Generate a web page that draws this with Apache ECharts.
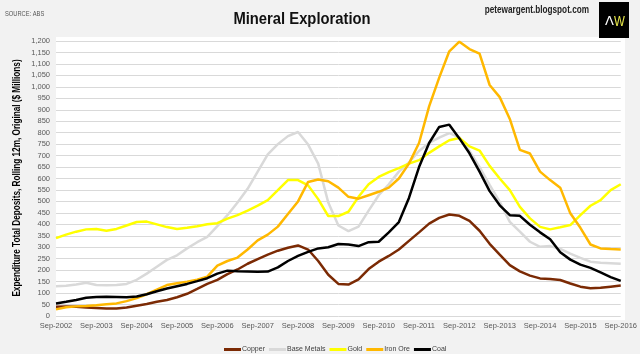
<!DOCTYPE html>
<html>
<head>
<meta charset="utf-8">
<script src="https://cdn.jsdelivr.net/npm/echarts/dist/echarts.min.js"></script>
<style>
html,body{margin:0;padding:0;background:#f2f2f2;}
#chart{width:640px;height:354px;}
</style>
</head>
<body>
<div id="chart"></div>
<script>
var categories = [
 'Sep-2002','Dec-2002','Mar-2003','Jun-2003','Sep-2003','Dec-2003','Mar-2004','Jun-2004',
 'Sep-2004','Dec-2004','Mar-2005','Jun-2005','Sep-2005','Dec-2005','Mar-2006','Jun-2006',
 'Sep-2006','Dec-2006','Mar-2007','Jun-2007','Sep-2007','Dec-2007','Mar-2008','Jun-2008',
 'Sep-2008','Dec-2008','Mar-2009','Jun-2009','Sep-2009','Dec-2009','Mar-2010','Jun-2010',
 'Sep-2010','Dec-2010','Mar-2011','Jun-2011','Sep-2011','Dec-2011','Mar-2012','Jun-2012',
 'Sep-2012','Dec-2012','Mar-2013','Jun-2013','Sep-2013','Dec-2013','Mar-2014','Jun-2014',
 'Sep-2014','Dec-2014','Mar-2015','Jun-2015','Sep-2015','Dec-2015','Mar-2016','Jun-2016',
 'Sep-2016'
];
var copper = [40,42,40,37,35,33,33,37,45,52,62,70,82,97,118,140,158,183,203,228,248,268,285,298,308,290,240,180,140,137,160,205,237,262,290,328,365,403,428,443,437,415,372,315,268,222,195,176,164,161,157,142,128,121,123,128,133];
var baseMetals = [130,132,137,145,135,134,135,140,158,185,215,245,265,295,322,345,392,440,495,555,630,705,750,785,803,748,665,495,395,370,390,460,527,575,630,670,720,755,778,798,780,720,650,572,498,411,368,324,302,305,293,272,254,237,232,230,228];
var gold = [340,355,368,378,380,372,380,395,410,412,400,388,380,385,392,400,405,425,440,460,482,506,549,593,593,570,510,436,436,455,520,575,607,628,645,665,680,712,740,767,777,740,722,655,600,549,476,426,389,378,387,397,440,481,506,549,575];
var ironOre = [29,38,42,44,47,51,55,65,78,95,115,135,143,150,158,172,220,240,255,290,330,355,390,445,500,585,596,588,560,520,512,527,542,560,600,665,755,915,1040,1155,1197,1165,1145,1008,955,860,725,709,630,593,560,448,385,312,295,292,290];
var coal = [55,62,70,80,83,84,83,82,85,95,108,120,130,140,152,165,185,198,195,194,193,194,212,240,262,280,295,300,314,312,305,322,324,365,410,515,650,755,825,835,775,710,630,545,483,440,437,398,365,335,278,246,224,210,190,170,153];
var seriesNames = ['Copper','Base Metals','Gold','Iron Ore','Coal'];
var seriesColors = ['#7b2a04','#d9d9d9','#ffff00','#ffb800','#000000'];
var seriesData = [copper, baseMetals, gold, ironOre, coal];
var yAxisTitle = 'Expenditure Total Deposits, Rolling 12m, Original ($ Millions)';
var chartTitle = 'Mineral Exploration';

var SANS = '"Liberation Sans",Arial,sans-serif';
var N = 0.82; // narrow-face horizontal squeeze

var chart = echarts.init(document.getElementById('chart'), null, {renderer:'canvas'});
var series = seriesNames.map(function(n,k){
  return {
    name:n, type:'line', data:seriesData[k], symbol:'none', smooth:false,
    lineStyle:{width:2.5,color:seriesColors[k]}, itemStyle:{color:seriesColors[k]},
    z: 2 + k
  };
});
chart.setOption({
  animation:false,
  backgroundColor:'#f2f2f2',
  graphic:[
    {type:'rect', z:-100, shape:{x:56,y:37,width:569,height:283}, style:{fill:'#ffffff'}},
    {type:'text', x:302, y:19, scaleX:0.87, style:{text:chartTitle, font:'bold 17px '+SANS, fill:'#111', textAlign:'center', textVerticalAlign:'middle'}},
    {type:'text', x:17, y:178, rotation:Math.PI/2, scaleX:N, style:{text:yAxisTitle, font:'bold 10px '+SANS, fill:'#000', textAlign:'center', textVerticalAlign:'middle'}},
    {type:'text', x:5, y:14, scaleX:N, style:{text:'SOURCE: ABS', font:'7px '+SANS, fill:'#555', textAlign:'left', textVerticalAlign:'middle'}},
    {type:'text', x:589, y:10, scaleX:N, style:{text:'petewargent.blogspot.com', font:'bold 10px '+SANS, fill:'#222', textAlign:'right', textVerticalAlign:'middle'}},
    {type:'rect', shape:{x:599,y:2,width:30,height:36}, style:{fill:'#000'}},
    {type:'text', x:614, y:22, style:{text:'Λ', font:'13px "DejaVu Sans",sans-serif', fill:'#fff', textAlign:'right', textVerticalAlign:'middle'}},
    {type:'text', x:614, y:22, scaleX:N, style:{text:'W', font:'14px '+SANS, fill:'#e8e84a', textAlign:'left', textVerticalAlign:'middle'}}
  ],
  legend:{data:seriesNames, left:219, top:341, icon:'rect', itemWidth:17, itemHeight:3, itemGap:4,
    textStyle:{fontFamily:SANS, fontSize:7, color:'#404040', padding:[0,0,0,-4]}},
  grid:{left:56, right:16, top:41, bottom:38, containLabel:false},
  xAxis:{type:'category', data:categories, boundaryGap:false,
    axisLine:{show:false}, axisTick:{show:false},
    axisLabel:{interval:3, fontFamily:SANS, fontSize:7.5, color:'#595959', margin:6},
    splitLine:{show:false}},
  yAxis:{type:'value', min:0, max:1200, interval:50,
    axisLine:{show:false}, axisTick:{show:false},
    axisLabel:{fontFamily:SANS, fontSize:7.5, color:'#595959', margin:6,
      formatter:function(v){return v.toLocaleString('en-US');}},
    splitLine:{lineStyle:{color:'#d9d9d9', width:1}}},
  series:series
});
</script>
</body>
</html>
